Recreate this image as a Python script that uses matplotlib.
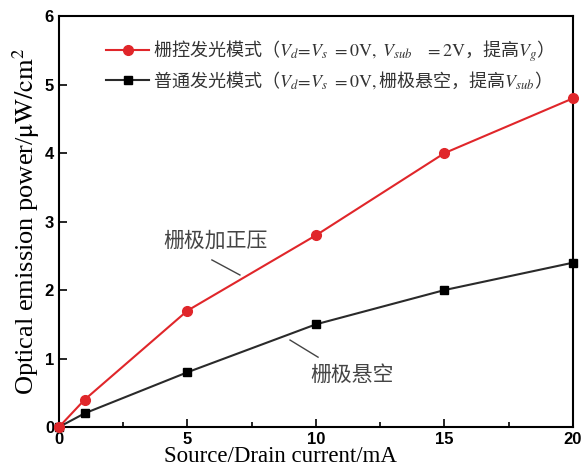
import numpy as np
import matplotlib.pyplot as plt
from matplotlib.ticker import MultipleLocator

plt.rcParams['mathtext.fontset'] = 'stix'

# 源漏电流 (mA) 与发光功率 (μW/cm²)
current = [0, 1, 5, 10, 15, 20]
power_gate = [0, 0.4, 1.7, 2.8, 4.0, 4.8]
power_float = [0, 0.2, 0.8, 1.5, 2.0, 2.4]

label_gate = r'栅控发光模式（$V_d\!=\!V_s\ \mathrm{=0V,}\ V_{sub}\ \ \ \mathrm{=2V}$，提高$V_g$）'
label_float = r'普通发光模式（$V_d\!=\!V_s\ \mathrm{=0V,}$栅极悬空，提高$V_{sub}$）'

cjk = ['Noto Sans CJK SC', 'DejaVu Sans']

fig = plt.figure(figsize=(5.88, 4.75), dpi=100)
ax = fig.add_axes([0.1003, 0.101, 0.8742, 0.865])

ax.plot(current, power_gate, color='#e0262a', lw=1.5, marker='o', ms=7,
        label=label_gate, clip_on=False, zorder=3)
ax.plot(current, power_float, color='#2a2a2a', lw=1.5, marker='s', ms=5.5,
        mfc='black', mec='black', label=label_float, clip_on=False, zorder=2)

ax.set_xlim(0, 20)
ax.set_ylim(0, 6)
ax.xaxis.set_major_locator(MultipleLocator(5))
ax.xaxis.set_minor_locator(MultipleLocator(2.5))
ax.yaxis.set_major_locator(MultipleLocator(1))
ax.tick_params(which='both', direction='in', top=False, right=False)
ax.tick_params(which='major', length=6, width=1.2, labelsize=12)
ax.tick_params(which='minor', length=3.5, width=1.2)
for lbl in ax.get_xticklabels() + ax.get_yticklabels():
    lbl.set_fontweight('bold')
    lbl.set_family('Liberation Sans')
for s in ax.spines.values():
    s.set_linewidth(1.5)

ax.set_xlabel('Source/Drain current/mA', family='Liberation Serif',
              fontsize=16.5, labelpad=-1)
ax.xaxis.set_label_coords(0.43, -0.045, transform=ax.transAxes)
ax.xaxis.label.set_va('top')
ax.set_ylabel(r'Optical emission power/$\mathrm{\mu W/cm^2}$',
              family='Liberation Serif', fontsize=19, labelpad=2)

leg = ax.legend(loc='upper left', bbox_to_anchor=(0.06, 0.985), frameon=False,
                prop={'family': cjk, 'size': 13}, handlelength=2.4,
                handletextpad=0.2, labelspacing=0.25)
for t in leg.get_texts():
    t.set_color('#333333')

# 标注
ax.text(6.1, 2.72, '栅极加正压', family=cjk, fontsize=15, color='#444444',
        ha='center', va='center')
ax.plot([5.95, 7.04], [2.44, 2.22], color='#444444', lw=1)
ax.text(11.4, 0.76, '栅极悬空', family=cjk, fontsize=15, color='#444444',
        ha='center', va='center')
ax.plot([8.99, 10.08], [1.27, 1.02], color='#444444', lw=1)

fig.savefig('out.png', dpi=100)
